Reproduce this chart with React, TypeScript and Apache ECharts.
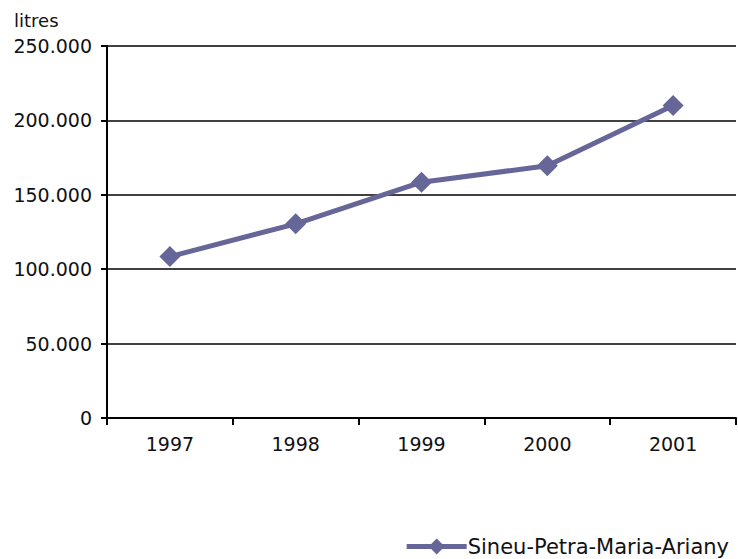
import React, { useEffect, useRef } from "react";
import * as echarts from "echarts";

const years = ["1997", "1998", "1999", "2000", "2001"];
const litres = [108500, 130500, 158500, 169500, 210000];
const seriesName = "Sineu-Petra-Maria-Ariany";
const unitLabel = "litres";

const FONT = "'DejaVu Sans', sans-serif";

export default function App() {
  const ref = useRef<HTMLDivElement>(null);
  useEffect(() => {
    if (!ref.current) return;
    const chart = echarts.init(ref.current, null, { renderer: "svg" });
    chart.setOption({
      animation: false,
      backgroundColor: "#ffffff",
      title: {
        text: unitLabel,
        left: 9,
        top: 6,
        textStyle: { fontFamily: FONT, fontSize: 18, fontWeight: "normal", color: "#111" },
      },
      grid: { left: 107, right: 2, top: 46, bottom: 141, containLabel: false },
      xAxis: {
        type: "category",
        data: years,
        boundaryGap: true,
        axisLine: { show: true, lineStyle: { color: "#000", width: 2 } },
        axisTick: { show: true, length: 7, lineStyle: { color: "#000", width: 2 } },
        axisLabel: { fontFamily: FONT, fontSize: 19, color: "#111", margin: 16 },
        splitLine: { show: false },
      },
      yAxis: {
        type: "value",
        min: 0,
        max: 250000,
        interval: 50000,
        axisLine: { show: true, lineStyle: { color: "#000", width: 2 } },
        axisTick: { show: true, length: 6, lineStyle: { color: "#000", width: 2 } },
        axisLabel: {
          fontFamily: FONT,
          fontSize: 19,
          color: "#111",
          margin: 15,
          formatter: (v: number) =>
            v === 0 ? "0" : String(v).replace(/\B(?=(\d{3})+(?!\d))/g, "."),
        },
        splitLine: { show: true, lineStyle: { color: "#000", width: 1.5 } },
      },
      legend: {
        data: [seriesName],
        right: 4,
        top: 531,
        itemWidth: 60,
        itemHeight: 20,
        itemGap: 4,
        itemStyle: { color: "#666699" },
        lineStyle: { color: "#666699", width: 5 },
        textStyle: { fontFamily: FONT, fontSize: 21, color: "#111", padding: [0, 0, 0, -4] },
      },
      series: [
        {
          name: seriesName,
          type: "line",
          data: litres,
          symbol: "diamond",
          symbolSize: 21,
          itemStyle: { color: "#666699" },
          lineStyle: { color: "#666699", width: 5 },
        },
      ],
    });
    return () => chart.dispose();
  }, []);
  return <div ref={ref} style={{ width: 738, height: 559, position: "absolute", left: 0, top: 0 }} />;
}
